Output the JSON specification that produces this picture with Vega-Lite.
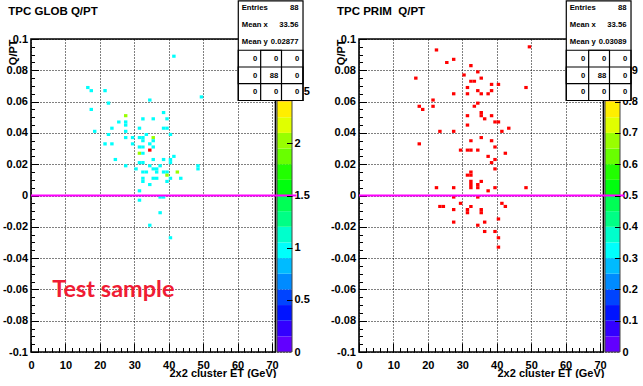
{
 "padding": {"left": 2, "top": 0, "right": 0, "bottom": 0},
 "background": "white",
 "config": {
  "view": {"stroke": null},
  "axis": {"labelFont": "Liberation Sans", "labelFontWeight": "bold", "labelFontSize": 11, "labelColor": "black", "titleFont": "Liberation Sans", "titleFontWeight": "bold", "titleFontSize": 11, "titleColor": "black", "tickColor": "black", "tickWidth": 1, "domainColor": "black", "gridColor": "black", "gridDash": [1, 2], "gridOpacity": 1, "gridWidth": 1, "labelOverlap": false, "labelFlush": false}
 },
 "datasets": {
  "palL": [{"k":0,"z0":0,"z1":0.15},{"k":1,"z0":0.15,"z1":0.3},{"k":2,"z0":0.3,"z1":0.45},{"k":3,"z0":0.45,"z1":0.6},{"k":4,"z0":0.6,"z1":0.75},{"k":5,"z0":0.75,"z1":0.9},{"k":6,"z0":0.9,"z1":1.05},{"k":7,"z0":1.05,"z1":1.2},{"k":8,"z0":1.2,"z1":1.35},{"k":9,"z0":1.35,"z1":1.5},{"k":10,"z0":1.5,"z1":1.65},{"k":11,"z0":1.65,"z1":1.8},{"k":12,"z0":1.8,"z1":1.95},{"k":13,"z0":1.95,"z1":2.1},{"k":14,"z0":2.1,"z1":2.25},{"k":15,"z0":2.25,"z1":2.4},{"k":16,"z0":2.4,"z1":2.55},{"k":17,"z0":2.55,"z1":2.7},{"k":18,"z0":2.7,"z1":2.85},{"k":19,"z0":2.85,"z1":3}],
  "palR": [{"k":0,"z0":0,"z1":0.05},{"k":1,"z0":0.05,"z1":0.1},{"k":2,"z0":0.1,"z1":0.15},{"k":3,"z0":0.15,"z1":0.2},{"k":4,"z0":0.2,"z1":0.25},{"k":5,"z0":0.25,"z1":0.3},{"k":6,"z0":0.3,"z1":0.35},{"k":7,"z0":0.35,"z1":0.4},{"k":8,"z0":0.4,"z1":0.45},{"k":9,"z0":0.45,"z1":0.5},{"k":10,"z0":0.5,"z1":0.55},{"k":11,"z0":0.55,"z1":0.6},{"k":12,"z0":0.6,"z1":0.65},{"k":13,"z0":0.65,"z1":0.7},{"k":14,"z0":0.7,"z1":0.75},{"k":15,"z0":0.75,"z1":0.8},{"k":16,"z0":0.8,"z1":0.85},{"k":17,"z0":0.85,"z1":0.9},{"k":18,"z0":0.9,"z1":0.95},{"k":19,"z0":0.95,"z1":1}],
  "cellsL": [
{"x0":16,"x1":17,"y0":0.068,"y1":0.07,"n":1},
{"x0":17,"x1":18,"y0":0.066,"y1":0.068,"n":1},
{"x0":21,"x1":22,"y0":0.066,"y1":0.068,"n":1},
{"x0":22,"x1":23,"y0":0.058,"y1":0.06,"n":1},
{"x0":34,"x1":35,"y0":0.06,"y1":0.062,"n":1},
{"x0":49,"x1":50,"y0":0.062,"y1":0.064,"n":1},
{"x0":41,"x1":42,"y0":0.088,"y1":0.09,"n":1},
{"x0":17,"x1":18,"y0":0.054,"y1":0.056,"n":1},
{"x0":27,"x1":28,"y0":0.05,"y1":0.052,"n":2},
{"x0":38,"x1":39,"y0":0.052,"y1":0.054,"n":1},
{"x0":25,"x1":26,"y0":0.046,"y1":0.048,"n":1},
{"x0":27,"x1":28,"y0":0.046,"y1":0.048,"n":1},
{"x0":27,"x1":28,"y0":0.044,"y1":0.046,"n":1},
{"x0":32,"x1":33,"y0":0.048,"y1":0.05,"n":1},
{"x0":35,"x1":36,"y0":0.048,"y1":0.05,"n":1},
{"x0":39,"x1":40,"y0":0.048,"y1":0.05,"n":1},
{"x0":23,"x1":24,"y0":0.042,"y1":0.044,"n":1},
{"x0":18,"x1":19,"y0":0.04,"y1":0.042,"n":1},
{"x0":31,"x1":32,"y0":0.042,"y1":0.044,"n":1},
{"x0":38,"x1":39,"y0":0.042,"y1":0.044,"n":1},
{"x0":39,"x1":40,"y0":0.042,"y1":0.044,"n":1},
{"x0":22,"x1":23,"y0":0.038,"y1":0.04,"n":1},
{"x0":27,"x1":28,"y0":0.04,"y1":0.042,"n":1},
{"x0":33,"x1":34,"y0":0.038,"y1":0.04,"n":1},
{"x0":40,"x1":41,"y0":0.038,"y1":0.04,"n":1},
{"x0":27,"x1":28,"y0":0.036,"y1":0.038,"n":1},
{"x0":29,"x1":30,"y0":0.036,"y1":0.038,"n":1},
{"x0":31,"x1":32,"y0":0.036,"y1":0.038,"n":1},
{"x0":32,"x1":33,"y0":0.036,"y1":0.038,"n":1},
{"x0":35,"x1":36,"y0":0.036,"y1":0.038,"n":2},
{"x0":35,"x1":36,"y0":0.034,"y1":0.036,"n":1},
{"x0":32,"x1":33,"y0":0.034,"y1":0.036,"n":1},
{"x0":21,"x1":22,"y0":0.032,"y1":0.034,"n":1},
{"x0":23,"x1":24,"y0":0.032,"y1":0.034,"n":1},
{"x0":29,"x1":30,"y0":0.032,"y1":0.034,"n":1},
{"x0":34,"x1":35,"y0":0.032,"y1":0.034,"n":1},
{"x0":31,"x1":32,"y0":0.03,"y1":0.032,"n":1},
{"x0":32,"x1":33,"y0":0.03,"y1":0.032,"n":1},
{"x0":35,"x1":36,"y0":0.03,"y1":0.032,"n":1},
{"x0":34,"x1":35,"y0":0.028,"y1":0.03,"n":3},
{"x0":31,"x1":32,"y0":0.026,"y1":0.028,"n":2},
{"x0":32,"x1":33,"y0":0.026,"y1":0.028,"n":1},
{"x0":41,"x1":42,"y0":0.024,"y1":0.026,"n":1},
{"x0":24,"x1":25,"y0":0.022,"y1":0.024,"n":1},
{"x0":35,"x1":36,"y0":0.022,"y1":0.024,"n":1},
{"x0":38,"x1":39,"y0":0.022,"y1":0.024,"n":1},
{"x0":40,"x1":41,"y0":0.022,"y1":0.024,"n":1},
{"x0":40,"x1":41,"y0":0.02,"y1":0.022,"n":1},
{"x0":31,"x1":32,"y0":0.02,"y1":0.022,"n":1},
{"x0":32,"x1":33,"y0":0.02,"y1":0.022,"n":1},
{"x0":27,"x1":28,"y0":0.018,"y1":0.02,"n":1},
{"x0":34,"x1":35,"y0":0.018,"y1":0.02,"n":1},
{"x0":37,"x1":38,"y0":0.018,"y1":0.02,"n":1},
{"x0":48,"x1":49,"y0":0.018,"y1":0.02,"n":1},
{"x0":48,"x1":49,"y0":0.016,"y1":0.018,"n":1},
{"x0":30,"x1":31,"y0":0.016,"y1":0.018,"n":1},
{"x0":35,"x1":36,"y0":0.016,"y1":0.018,"n":1},
{"x0":36,"x1":37,"y0":0.016,"y1":0.018,"n":1},
{"x0":32,"x1":33,"y0":0.014,"y1":0.016,"n":1},
{"x0":33,"x1":34,"y0":0.014,"y1":0.016,"n":1},
{"x0":36,"x1":37,"y0":0.014,"y1":0.016,"n":1},
{"x0":38,"x1":39,"y0":0.014,"y1":0.016,"n":1},
{"x0":39,"x1":40,"y0":0.014,"y1":0.016,"n":1},
{"x0":42,"x1":43,"y0":0.014,"y1":0.016,"n":2},
{"x0":39,"x1":40,"y0":0.012,"y1":0.014,"n":2},
{"x0":32,"x1":33,"y0":0.01,"y1":0.012,"n":1},
{"x0":32,"x1":33,"y0":0.008,"y1":0.01,"n":1},
{"x0":35,"x1":36,"y0":0.01,"y1":0.012,"n":1},
{"x0":36,"x1":37,"y0":0.01,"y1":0.012,"n":1},
{"x0":40,"x1":41,"y0":0.01,"y1":0.012,"n":1},
{"x0":43,"x1":44,"y0":0.01,"y1":0.012,"n":1},
{"x0":39,"x1":40,"y0":0.008,"y1":0.01,"n":1},
{"x0":34,"x1":35,"y0":0.006,"y1":0.008,"n":1},
{"x0":31,"x1":32,"y0":0.002,"y1":0.004,"n":1},
{"x0":37,"x1":38,"y0":-0.002,"y1":0,"n":1},
{"x0":38,"x1":39,"y0":-0.002,"y1":0,"n":1},
{"x0":31,"x1":32,"y0":-0.004,"y1":-0.002,"n":1},
{"x0":37,"x1":38,"y0":-0.012,"y1":-0.01,"n":1},
{"x0":34,"x1":35,"y0":-0.02,"y1":-0.018,"n":1},
{"x0":40,"x1":41,"y0":-0.028,"y1":-0.026,"n":1}
  ],
  "cellsR": [
{"x0":22,"x1":23,"y0":0.092,"y1":0.094,"n":1},
{"x0":49,"x1":50,"y0":0.094,"y1":0.096,"n":1},
{"x0":25,"x1":26,"y0":0.084,"y1":0.086,"n":1},
{"x0":27,"x1":28,"y0":0.086,"y1":0.088,"n":1},
{"x0":32,"x1":33,"y0":0.082,"y1":0.084,"n":1},
{"x0":34,"x1":35,"y0":0.078,"y1":0.08,"n":1},
{"x0":30,"x1":31,"y0":0.076,"y1":0.078,"n":1},
{"x0":16,"x1":17,"y0":0.074,"y1":0.076,"n":1},
{"x0":35,"x1":36,"y0":0.074,"y1":0.076,"n":1},
{"x0":32,"x1":33,"y0":0.072,"y1":0.074,"n":1},
{"x0":33,"x1":34,"y0":0.072,"y1":0.074,"n":1},
{"x0":31,"x1":32,"y0":0.068,"y1":0.07,"n":1},
{"x0":38,"x1":39,"y0":0.07,"y1":0.072,"n":1},
{"x0":40,"x1":41,"y0":0.07,"y1":0.072,"n":1},
{"x0":48,"x1":49,"y0":0.068,"y1":0.07,"n":1},
{"x0":34,"x1":35,"y0":0.066,"y1":0.068,"n":1},
{"x0":38,"x1":39,"y0":0.066,"y1":0.068,"n":1},
{"x0":27,"x1":28,"y0":0.064,"y1":0.066,"n":1},
{"x0":31,"x1":32,"y0":0.064,"y1":0.066,"n":1},
{"x0":35,"x1":36,"y0":0.064,"y1":0.066,"n":1},
{"x0":37,"x1":38,"y0":0.064,"y1":0.066,"n":1},
{"x0":21,"x1":22,"y0":0.06,"y1":0.062,"n":1},
{"x0":34,"x1":35,"y0":0.058,"y1":0.06,"n":1},
{"x0":17,"x1":18,"y0":0.056,"y1":0.058,"n":1},
{"x0":18,"x1":19,"y0":0.054,"y1":0.056,"n":1},
{"x0":21,"x1":22,"y0":0.056,"y1":0.058,"n":1},
{"x0":33,"x1":34,"y0":0.056,"y1":0.058,"n":1},
{"x0":35,"x1":36,"y0":0.052,"y1":0.054,"n":1},
{"x0":35,"x1":36,"y0":0.05,"y1":0.052,"n":1},
{"x0":31,"x1":32,"y0":0.05,"y1":0.052,"n":1},
{"x0":38,"x1":39,"y0":0.05,"y1":0.052,"n":1},
{"x0":36,"x1":37,"y0":0.048,"y1":0.05,"n":1},
{"x0":39,"x1":40,"y0":0.046,"y1":0.048,"n":1},
{"x0":40,"x1":41,"y0":0.046,"y1":0.048,"n":1},
{"x0":31,"x1":32,"y0":0.044,"y1":0.046,"n":1},
{"x0":43,"x1":44,"y0":0.042,"y1":0.044,"n":1},
{"x0":23,"x1":24,"y0":0.04,"y1":0.042,"n":1},
{"x0":27,"x1":28,"y0":0.04,"y1":0.042,"n":1},
{"x0":41,"x1":42,"y0":0.04,"y1":0.042,"n":1},
{"x0":35,"x1":36,"y0":0.036,"y1":0.038,"n":1},
{"x0":32,"x1":33,"y0":0.034,"y1":0.036,"n":1},
{"x0":38,"x1":39,"y0":0.034,"y1":0.036,"n":1},
{"x0":17,"x1":18,"y0":0.032,"y1":0.034,"n":1},
{"x0":39,"x1":40,"y0":0.03,"y1":0.032,"n":1},
{"x0":29,"x1":30,"y0":0.028,"y1":0.03,"n":1},
{"x0":31,"x1":32,"y0":0.028,"y1":0.03,"n":1},
{"x0":32,"x1":33,"y0":0.028,"y1":0.03,"n":1},
{"x0":34,"x1":35,"y0":0.028,"y1":0.03,"n":1},
{"x0":42,"x1":43,"y0":0.026,"y1":0.028,"n":1},
{"x0":37,"x1":38,"y0":0.024,"y1":0.026,"n":1},
{"x0":39,"x1":40,"y0":0.022,"y1":0.024,"n":1},
{"x0":38,"x1":39,"y0":0.02,"y1":0.022,"n":1},
{"x0":39,"x1":40,"y0":0.016,"y1":0.018,"n":1},
{"x0":31,"x1":32,"y0":0.012,"y1":0.014,"n":1},
{"x0":32,"x1":33,"y0":0.014,"y1":0.016,"n":1},
{"x0":32,"x1":33,"y0":0.012,"y1":0.014,"n":1},
{"x0":35,"x1":36,"y0":0.008,"y1":0.01,"n":1},
{"x0":32,"x1":33,"y0":0.008,"y1":0.01,"n":1},
{"x0":32,"x1":33,"y0":0.006,"y1":0.008,"n":1},
{"x0":32,"x1":33,"y0":0.004,"y1":0.006,"n":1},
{"x0":34,"x1":35,"y0":0.006,"y1":0.008,"n":1},
{"x0":34,"x1":35,"y0":0.004,"y1":0.006,"n":1},
{"x0":22,"x1":23,"y0":0.004,"y1":0.006,"n":1},
{"x0":27,"x1":28,"y0":0.004,"y1":0.006,"n":1},
{"x0":39,"x1":40,"y0":0.004,"y1":0.006,"n":1},
{"x0":48,"x1":49,"y0":0.004,"y1":0.006,"n":1},
{"x0":37,"x1":38,"y0":0.002,"y1":0.004,"n":1},
{"x0":27,"x1":28,"y0":-0.002,"y1":0,"n":1},
{"x0":34,"x1":35,"y0":-0.002,"y1":0,"n":1},
{"x0":23,"x1":24,"y0":-0.008,"y1":-0.006,"n":1},
{"x0":24,"x1":25,"y0":-0.008,"y1":-0.006,"n":1},
{"x0":29,"x1":30,"y0":-0.006,"y1":-0.004,"n":1},
{"x0":32,"x1":33,"y0":-0.008,"y1":-0.006,"n":1},
{"x0":41,"x1":42,"y0":-0.006,"y1":-0.004,"n":1},
{"x0":42,"x1":43,"y0":-0.008,"y1":-0.006,"n":1},
{"x0":27,"x1":28,"y0":-0.01,"y1":-0.008,"n":1},
{"x0":31,"x1":32,"y0":-0.01,"y1":-0.008,"n":1},
{"x0":31,"x1":32,"y0":-0.012,"y1":-0.01,"n":1},
{"x0":35,"x1":36,"y0":-0.01,"y1":-0.008,"n":1},
{"x0":35,"x1":36,"y0":-0.012,"y1":-0.01,"n":1},
{"x0":27,"x1":28,"y0":-0.018,"y1":-0.016,"n":1},
{"x0":34,"x1":35,"y0":-0.02,"y1":-0.018,"n":1},
{"x0":36,"x1":37,"y0":-0.018,"y1":-0.016,"n":1},
{"x0":40,"x1":41,"y0":-0.016,"y1":-0.014,"n":1},
{"x0":36,"x1":37,"y0":-0.024,"y1":-0.022,"n":1},
{"x0":39,"x1":40,"y0":-0.024,"y1":-0.022,"n":1},
{"x0":40,"x1":41,"y0":-0.028,"y1":-0.026,"n":1},
{"x0":40,"x1":41,"y0":-0.034,"y1":-0.032,"n":1}
  ]
 },
 "resolve": {"scale": {"color": "independent"}},
 "spacing": 67,
 "bounds": "flush",
 "hconcat": [
  {
   "width": 261, "height": 313,
   "resolve": {"scale": {"y": "independent"}},
   "layer": [
    {
     "resolve": {"axis": {"y": "independent"}},
     "layer": [
      {"data": {"name": "palL"}, "mark": {"type": "rect"},
       "encoding": {
        "x": {"datum": 71.45, "type": "quantitative", "scale": {"domain": [0, 75.8], "nice": false, "zero": false}, "axis": null},
        "x2": {"datum": 75.8},
        "y": {"field": "z0", "type": "quantitative", "scale": {"domain": [0, 3], "nice": false, "zero": false}, "axis": {"orient": "right", "values": [0, 0.5, 1, 1.5, 2, 2.5, 3], "labelExpr": "toString(datum.value)", "ticks": false, "domain": false, "grid": false, "labelPadding": 2, "title": null}},
        "y2": {"field": "z1"},
        "fill": {"field": "k", "type": "ordinal", "scale": {"domain": [0,1,2,3,4,5,6,7,8,9,10,11,12,13,14,15,16,17,18,19], "range": ["#6200ff","#3300ff","#0014ff","#0044ff","#008bff","#00bbff","#00fffc","#00ffcc","#00ff85","#00ff55","#00ff0e","#22ff00","#69ff00","#99ff00","#e0ff00","#ffee00","#ffa700","#ff7700","#ff3000","#ff0000"]}, "legend": null}
       }},
      {"data": {"values": [{}]}, "mark": {"type": "rect", "filled": false, "stroke": "#444444", "strokeWidth": 1},
       "encoding": {
        "x": {"datum": 71.45, "type": "quantitative", "axis": null},
        "x2": {"datum": 75.8},
        "y": {"datum": 0, "type": "quantitative", "axis": {"orient": "right", "values": [0.5, 1, 1.5, 2], "labels": false, "tickSize": -5.5, "domain": false, "grid": false, "title": null, "zindex": 1}},
        "y2": {"datum": 3}
       }}
     ]
    },
    {
     "resolve": {"axis": {"x": "independent", "y": "independent"}},
     "layer": [
      {"data": {"values": [{}]}, "mark": {"type": "rect", "filled": false, "stroke": "black", "strokeWidth": 1.6},
       "encoding": {
        "x": {"datum": 0, "type": "quantitative", "scale": {"domain": [0, 75.8], "nice": false, "zero": false}, "axis": {"orient": "bottom", "values": [0,10,20,30,40,50,60,70], "tickSize": -9, "labelPadding": 16, "grid": true, "domain": false, "title": "2x2 cluster ET (GeV)", "titleX": 245, "titleY": 15, "titleAlign": "right", "titleBaseline": "top", "titleAngle": 0}},
        "x2": {"datum": 71},
        "y": {"datum": -0.1, "type": "quantitative", "scale": {"domain": [-0.1, 0.1], "nice": false, "zero": false}, "axis": {"orient": "left", "values": [-0.1,-0.08,-0.06,-0.04,-0.02,0,0.02,0.04,0.06,0.08,0.1], "labelExpr": "toString(datum.value)", "tickSize": -7.5, "labelPadding": 11, "grid": true, "domain": false, "title": "Q/PT", "titleX": -18, "titleY": 0, "titleAngle": 270, "titleAlign": "right", "titleBaseline": "middle"}},
        "y2": {"datum": 0.1}
       }},
      {"data": {"name": "cellsL"}, "mark": {"type": "rect"},
       "encoding": {
        "x": {"field": "x0", "type": "quantitative", "axis": null},
        "x2": {"field": "x1"},
        "y": {"field": "y0", "type": "quantitative", "axis": null},
        "y2": {"field": "y1"},
        "color": {"field": "n", "type": "ordinal", "scale": {"domain": [1, 2, 3], "range": ["#00fffc", "#99ff00", "#ff0000"]}, "legend": null}
       }},
      {"data": {"values": [{}]}, "mark": {"type": "rule", "color": "#ff00ff", "strokeWidth": 2},
       "encoding": {
        "x": {"datum": 0, "type": "quantitative", "axis": {"orient": "bottom", "values": [2,4,6,8,12,14,16,18,22,24,26,28,32,34,36,38,42,44,46,48,52,54,56,58,62,64,66,68], "tickSize": -4.5, "labels": false, "grid": false, "domain": false, "title": null}},
        "x2": {"datum": 77.1},
        "y": {"datum": 0, "type": "quantitative", "axis": {"orient": "left", "values": [-0.095,-0.09,-0.085,-0.075,-0.07,-0.065,-0.055,-0.05,-0.045,-0.035,-0.03,-0.025,-0.015,-0.01,-0.005,0.005,0.01,0.015,0.025,0.03,0.035,0.045,0.05,0.055,0.065,0.07,0.075,0.085,0.09,0.095], "tickSize": -3.5, "labels": false, "grid": false, "domain": false, "title": null}}
       }},
      {"data": {"values": [{}]}, "mark": {"type": "text", "text": "Test sample", "font": "Lato", "fontWeight": "bold", "fontSize": 23.5, "color": "#f01c34", "align": "left", "baseline": "alphabetic"},
       "encoding": {"x": {"datum": 6.16, "type": "quantitative", "axis": null}, "y": {"datum": -0.0647, "type": "quantitative", "axis": null}}},
      {"data": {"values": [{}]}, "mark": {"type": "text", "text": "TPC GLOB Q/PT", "font": "Liberation Sans", "fontWeight": "bold", "fontSize": 11.5, "color": "black", "align": "left", "baseline": "alphabetic"},
       "encoding": {"x": {"datum": -6.6, "type": "quantitative", "axis": null}, "y": {"datum": 0.1155, "type": "quantitative", "axis": null}}},
      {"data": {"values": [{}]}, "mark": {"type": "rect", "fill": "white", "stroke": "black", "strokeWidth": 1.2},
       "encoding": {"x": {"datum": 60.2, "type": "quantitative", "axis": null}, "x2": {"datum": 79.0}, "y": {"datum": 0.0607, "type": "quantitative", "axis": null}, "y2": {"datum": 0.1243}}},
      {"data": {"values": [{}]}, "mark": {"type": "rect", "filled": false, "stroke": "black", "strokeWidth": 1.2},
       "encoding": {"x": {"datum": 60.2, "type": "quantitative", "axis": null}, "x2": {"datum": 79.0}, "y": {"datum": 0.0607, "type": "quantitative", "axis": null}, "y2": {"datum": 0.0928}}},
      {"data": {"values": [{}]}, "mark": {"type": "rect", "filled": false, "stroke": "black", "strokeWidth": 1.2},
       "encoding": {"x": {"datum": 60.2, "type": "quantitative", "axis": null}, "x2": {"datum": 79.0}, "y": {"datum": 0.07144, "type": "quantitative", "axis": null}, "y2": {"datum": 0.0821}}},
      {"data": {"values": [{}]}, "mark": {"type": "rect", "filled": false, "stroke": "black", "strokeWidth": 1.2},
       "encoding": {"x": {"datum": 66.7, "type": "quantitative", "axis": null}, "x2": {"datum": 72.75}, "y": {"datum": 0.0607, "type": "quantitative", "axis": null}, "y2": {"datum": 0.0928}}},
      {"data": {"values": [{}]}, "mark": {"type": "text", "text": ["Entries", "Mean x", "Mean y"], "font": "Liberation Sans", "fontWeight": "bold", "fontSize": 7.7, "align": "left", "baseline": "top", "lineHeight": 16.9, "color": "black"},
       "encoding": {"x": {"datum": 61.2, "type": "quantitative", "axis": null}, "y": {"datum": 0.1223, "type": "quantitative", "axis": null}}},
      {"data": {"values": [{}]}, "mark": {"type": "text", "text": ["88", "33.56", "0.02877"], "font": "Liberation Sans", "fontWeight": "bold", "fontSize": 7.7, "align": "right", "baseline": "top", "lineHeight": 16.9, "color": "black"},
       "encoding": {"x": {"datum": 77.7, "type": "quantitative", "axis": null}, "y": {"datum": 0.1223, "type": "quantitative", "axis": null}}},
      {"data": {"values": [{}]}, "mark": {"type": "text", "text": ["0", "0", "0"], "font": "Liberation Sans", "fontWeight": "bold", "fontSize": 7.7, "align": "right", "baseline": "top", "lineHeight": 16.4, "color": "black"},
       "encoding": {"x": {"datum": 65.7, "type": "quantitative", "axis": null}, "y": {"datum": 0.0897, "type": "quantitative", "axis": null}}},
      {"data": {"values": [{}]}, "mark": {"type": "text", "text": ["0", "88", "0"], "font": "Liberation Sans", "fontWeight": "bold", "fontSize": 7.7, "align": "right", "baseline": "top", "lineHeight": 16.4, "color": "black"},
       "encoding": {"x": {"datum": 71.8, "type": "quantitative", "axis": null}, "y": {"datum": 0.0897, "type": "quantitative", "axis": null}}},
      {"data": {"values": [{}]}, "mark": {"type": "text", "text": ["0", "0", "0"], "font": "Liberation Sans", "fontWeight": "bold", "fontSize": 7.7, "align": "right", "baseline": "top", "lineHeight": 16.4, "color": "black"},
       "encoding": {"x": {"datum": 77.9, "type": "quantitative", "axis": null}, "y": {"datum": 0.0897, "type": "quantitative", "axis": null}}}
     ]
    }
   ]
  },
  {
   "width": 261, "height": 313,
   "resolve": {"scale": {"y": "independent"}},
   "layer": [
    {
     "resolve": {"axis": {"y": "independent"}},
     "layer": [
      {"data": {"name": "palR"}, "mark": {"type": "rect"},
       "encoding": {
        "x": {"datum": 71.45, "type": "quantitative", "scale": {"domain": [0, 75.8], "nice": false, "zero": false}, "axis": null},
        "x2": {"datum": 75.8},
        "y": {"field": "z0", "type": "quantitative", "scale": {"domain": [0, 1], "nice": false, "zero": false}, "axis": {"orient": "right", "values": [0, 0.1, 0.2, 0.3, 0.4, 0.5, 0.6, 0.7, 0.8, 0.9, 1], "labelExpr": "toString(datum.value)", "ticks": false, "domain": false, "grid": false, "labelPadding": 2, "title": null}},
        "y2": {"field": "z1"},
        "fill": {"field": "k", "type": "ordinal", "scale": {"domain": [0,1,2,3,4,5,6,7,8,9,10,11,12,13,14,15,16,17,18,19], "range": ["#6200ff","#3300ff","#0014ff","#0044ff","#008bff","#00bbff","#00fffc","#00ffcc","#00ff85","#00ff55","#00ff0e","#22ff00","#69ff00","#99ff00","#e0ff00","#ffee00","#ffa700","#ff7700","#ff3000","#ff0000"]}, "legend": null}
       }},
      {"data": {"values": [{}]}, "mark": {"type": "rect", "filled": false, "stroke": "#444444", "strokeWidth": 1},
       "encoding": {
        "x": {"datum": 71.45, "type": "quantitative", "axis": null},
        "x2": {"datum": 75.8},
        "y": {"datum": 0, "type": "quantitative", "axis": {"orient": "right", "values": [0.1, 0.2, 0.3, 0.4, 0.5, 0.6, 0.7, 0.8], "labels": false, "tickSize": -5.5, "domain": false, "grid": false, "title": null, "zindex": 1}},
        "y2": {"datum": 1}
       }}
     ]
    },
    {
     "resolve": {"axis": {"x": "independent", "y": "independent"}},
     "layer": [
      {"data": {"values": [{}]}, "mark": {"type": "rect", "filled": false, "stroke": "black", "strokeWidth": 1.6},
       "encoding": {
        "x": {"datum": 0, "type": "quantitative", "scale": {"domain": [0, 75.8], "nice": false, "zero": false}, "axis": {"orient": "bottom", "values": [0,10,20,30,40,50,60,70], "tickSize": -9, "labelPadding": 16, "grid": true, "domain": false, "title": "2x2 cluster ET (GeV)", "titleX": 245, "titleY": 15, "titleAlign": "right", "titleBaseline": "top", "titleAngle": 0}},
        "x2": {"datum": 71},
        "y": {"datum": -0.1, "type": "quantitative", "scale": {"domain": [-0.1, 0.1], "nice": false, "zero": false}, "axis": {"orient": "left", "values": [-0.1,-0.08,-0.06,-0.04,-0.02,0,0.02,0.04,0.06,0.08,0.1], "labelExpr": "toString(datum.value)", "tickSize": -7.5, "labelPadding": 11, "grid": true, "domain": false, "title": "Q/PT", "titleX": -18, "titleY": 0, "titleAngle": 270, "titleAlign": "right", "titleBaseline": "middle"}},
        "y2": {"datum": 0.1}
       }},
      {"data": {"name": "cellsR"}, "mark": {"type": "rect"},
       "encoding": {
        "x": {"field": "x0", "type": "quantitative", "axis": null},
        "x2": {"field": "x1"},
        "y": {"field": "y0", "type": "quantitative", "axis": null},
        "y2": {"field": "y1"},
        "color": {"field": "n", "type": "ordinal", "scale": {"domain": [1], "range": ["#ff0000"]}, "legend": null}
       }},
      {"data": {"values": [{}]}, "mark": {"type": "rule", "color": "#ff00ff", "strokeWidth": 2},
       "encoding": {
        "x": {"datum": 0, "type": "quantitative", "axis": {"orient": "bottom", "values": [2,4,6,8,12,14,16,18,22,24,26,28,32,34,36,38,42,44,46,48,52,54,56,58,62,64,66,68], "tickSize": -4.5, "labels": false, "grid": false, "domain": false, "title": null}},
        "x2": {"datum": 77.1},
        "y": {"datum": 0, "type": "quantitative", "axis": {"orient": "left", "values": [-0.095,-0.09,-0.085,-0.075,-0.07,-0.065,-0.055,-0.05,-0.045,-0.035,-0.03,-0.025,-0.015,-0.01,-0.005,0.005,0.01,0.015,0.025,0.03,0.035,0.045,0.05,0.055,0.065,0.07,0.075,0.085,0.09,0.095], "tickSize": -3.5, "labels": false, "grid": false, "domain": false, "title": null}}
       }},
      {"data": {"values": [{}]}, "mark": {"type": "text", "text": "TPC PRIM\u00a0 Q/PT", "font": "Liberation Sans", "fontWeight": "bold", "fontSize": 11.5, "color": "black", "align": "left", "baseline": "alphabetic"},
       "encoding": {"x": {"datum": -6.4, "type": "quantitative", "axis": null}, "y": {"datum": 0.1155, "type": "quantitative", "axis": null}}},
      {"data": {"values": [{}]}, "mark": {"type": "rect", "fill": "white", "stroke": "black", "strokeWidth": 1.2},
       "encoding": {"x": {"datum": 60.2, "type": "quantitative", "axis": null}, "x2": {"datum": 79.0}, "y": {"datum": 0.0607, "type": "quantitative", "axis": null}, "y2": {"datum": 0.1243}}},
      {"data": {"values": [{}]}, "mark": {"type": "rect", "filled": false, "stroke": "black", "strokeWidth": 1.2},
       "encoding": {"x": {"datum": 60.2, "type": "quantitative", "axis": null}, "x2": {"datum": 79.0}, "y": {"datum": 0.0607, "type": "quantitative", "axis": null}, "y2": {"datum": 0.0928}}},
      {"data": {"values": [{}]}, "mark": {"type": "rect", "filled": false, "stroke": "black", "strokeWidth": 1.2},
       "encoding": {"x": {"datum": 60.2, "type": "quantitative", "axis": null}, "x2": {"datum": 79.0}, "y": {"datum": 0.07144, "type": "quantitative", "axis": null}, "y2": {"datum": 0.0821}}},
      {"data": {"values": [{}]}, "mark": {"type": "rect", "filled": false, "stroke": "black", "strokeWidth": 1.2},
       "encoding": {"x": {"datum": 66.7, "type": "quantitative", "axis": null}, "x2": {"datum": 72.75}, "y": {"datum": 0.0607, "type": "quantitative", "axis": null}, "y2": {"datum": 0.0928}}},
      {"data": {"values": [{}]}, "mark": {"type": "text", "text": ["Entries", "Mean x", "Mean y"], "font": "Liberation Sans", "fontWeight": "bold", "fontSize": 7.7, "align": "left", "baseline": "top", "lineHeight": 16.9, "color": "black"},
       "encoding": {"x": {"datum": 61.2, "type": "quantitative", "axis": null}, "y": {"datum": 0.1223, "type": "quantitative", "axis": null}}},
      {"data": {"values": [{}]}, "mark": {"type": "text", "text": ["88", "33.56", "0.03089"], "font": "Liberation Sans", "fontWeight": "bold", "fontSize": 7.7, "align": "right", "baseline": "top", "lineHeight": 16.9, "color": "black"},
       "encoding": {"x": {"datum": 77.7, "type": "quantitative", "axis": null}, "y": {"datum": 0.1223, "type": "quantitative", "axis": null}}},
      {"data": {"values": [{}]}, "mark": {"type": "text", "text": ["0", "0", "0"], "font": "Liberation Sans", "fontWeight": "bold", "fontSize": 7.7, "align": "right", "baseline": "top", "lineHeight": 16.4, "color": "black"},
       "encoding": {"x": {"datum": 65.7, "type": "quantitative", "axis": null}, "y": {"datum": 0.0897, "type": "quantitative", "axis": null}}},
      {"data": {"values": [{}]}, "mark": {"type": "text", "text": ["0", "88", "0"], "font": "Liberation Sans", "fontWeight": "bold", "fontSize": 7.7, "align": "right", "baseline": "top", "lineHeight": 16.4, "color": "black"},
       "encoding": {"x": {"datum": 71.8, "type": "quantitative", "axis": null}, "y": {"datum": 0.0897, "type": "quantitative", "axis": null}}},
      {"data": {"values": [{}]}, "mark": {"type": "text", "text": ["0", "0", "0"], "font": "Liberation Sans", "fontWeight": "bold", "fontSize": 7.7, "align": "right", "baseline": "top", "lineHeight": 16.4, "color": "black"},
       "encoding": {"x": {"datum": 77.9, "type": "quantitative", "axis": null}, "y": {"datum": 0.0897, "type": "quantitative", "axis": null}}}
     ]
    }
   ]
  }
 ]
}
